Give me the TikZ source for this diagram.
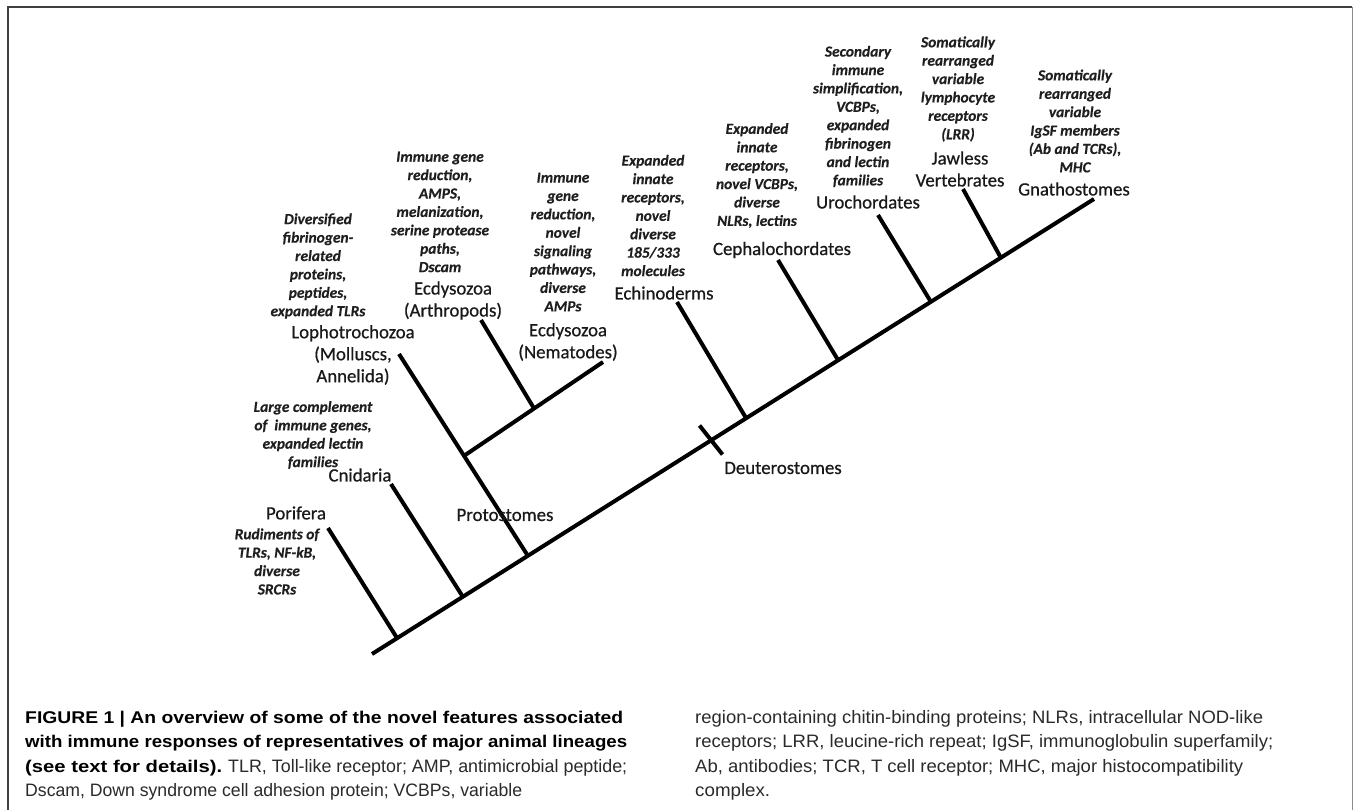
\documentclass[tikz,border=0pt]{standalone}
\usepackage{fontspec}
\usepackage{graphicx}
\setmainfont{Carlito}
\newfontfamily\taxfont{Carlito}[FakeBold=0.6]
\newfontfamily\featfont{Carlito}[FakeBold=0.3]
\newfontfamily\capfont{Liberation Sans}
\usetikzlibrary{calc}
\definecolor{captxt}{HTML}{2A2A2A}
\newcommand{\capbold}{\fontsize{17}{20}\selectfont\bfseries\color{black}}
\newcommand{\capreg}{\fontsize{18}{20}\selectfont\mdseries\color{captxt}}
\begin{document}
\begin{tikzpicture}[x=1pt,y=-1pt,
  branch/.style={line width=4pt, black},
  taxon/.style={font=\taxfont\fontsize{18.8}{22}\selectfont, align=center, inner sep=0pt, text=black!90},
  feat/.style={font=\featfont\fontsize{15.4}{18.4}\selectfont\bfseries\itshape, align=center, inner sep=0pt, text=black!88},
  capline/.style={anchor=base west, inner sep=0pt, font=\capfont},
  framedark/.style={line width=1.5pt, black!75},
  framelight/.style={line width=1pt, black!45}]
\useasboundingbox (0,0) rectangle (1354,810);
\fill[white] (0,0) rectangle (1354,810);
% frame
\draw[framedark] (8,810) -- (8,7) -- (1352,7);
\draw[framelight] (1352,7) -- (1352,810);

% tree coordinates
\coordinate (root) at (372,654);
\coordinate (gna)  at (1094,199);
\coordinate (bPor) at (397,638);  \coordinate (tPor) at (328,528);
\coordinate (bCni) at (463,597);  \coordinate (tCni) at (391,484);
\coordinate (bPro) at (528,556);  \coordinate (tLop) at (399,354);
\coordinate (jE)   at ($(bPro)!0.496!(tLop)$);
\coordinate (tNem) at (603,362);
\coordinate (bArt) at ($(jE)!0.504!(tNem)$);
\coordinate (tArt) at (481,320);
\coordinate (tk)   at (711,440);
\coordinate (tkA)  at ($(tk)+(-11.5,-14.5)$);
\coordinate (tkB)  at ($(tk)+(11.5,14.5)$);
\coordinate (bEch) at (746,418);  \coordinate (tEch) at (677,302);
\coordinate (bCep) at (838,360);  \coordinate (tCep) at (778,260);
\coordinate (bUro) at (931,302);  \coordinate (tUro) at (878,215);
\coordinate (bJaw) at (1001,258); \coordinate (tJaw) at (963,189);

% branches
\draw[branch] (root) -- (gna);
\draw[branch] (bPor) -- (tPor);
\draw[branch] (bCni) -- (tCni);
\draw[branch] (bPro) -- (tLop);
\draw[branch] (jE) -- (tNem);
\draw[branch] (bArt) -- (tArt);
\draw[branch] (tkA) -- (tkB);
\draw[branch] (bEch) -- (tEch);
\draw[branch] (bCep) -- (tCep);
\draw[branch] (bUro) -- (tUro);
\draw[branch] (bJaw) -- (tJaw);

% taxon labels
\node[taxon] (porifera) at (296,513) {Porifera};
\node[taxon] (cnidaria) at (360,475) {Cnidaria};
\node[taxon] (proto) at (505,515) {Protostomes};
\node[taxon] (lopho) at (353,355) {Lophotrochozoa\\(Molluscs,\\Annelida)};
\node[taxon] (arthro) at (453,300.5) {Ecdysozoa\\(Arthropods)};
\node[taxon] (nemat) at (568,342) {Ecdysozoa\\(Nematodes)};
\node[taxon] (echino) at (664,293) {Echinoderms};
\node[taxon] (deutero) at (783,468) {Deuterostomes};
\node[taxon] (cephalo) at (782,250) {Cephalochordates};
\node[taxon] (uro) at (868,202) {Urochordates};
\node[taxon] (jawless) at (960,169) {Jawless\\Vertebrates};
\node[taxon] (gnatho) at (1074,189) {Gnathostomes};

% feature labels
\node[feat] (fPor) at (277,561.5) {Rudiments of\\TLRs, NF-kB,\\diverse\\SRCRs};
\node[feat] (fCni) at (313,435) {Large complement\\of\ \ immune genes,\\expanded lectin\\families};
\node[feat] (fLop) at (318,266) {Diversified\\fibrinogen-\\related\\proteins,\\peptides,\\expanded TLRs};
\node[feat] (fArt) at (440,212) {Immune gene\\reduction,\\AMPS,\\melanization,\\serine protease\\paths,\\Dscam};
\node[feat] (fNem) at (563,242) {Immune\\gene\\reduction,\\novel\\signaling\\pathways,\\diverse\\AMPs};
\node[feat] (fEch) at (653,215.5) {Expanded\\innate\\receptors,\\novel\\diverse\\185/333\\molecules};
\node[feat] (fCep) at (757,175.5) {Expanded\\innate\\receptors,\\novel VCBPs,\\diverse\\NLRs, lectins};
\node[feat] (fUro) at (858,116.5) {Secondary\\immune\\simplification,\\VCBPs,\\expanded\\fibrinogen\\and lectin\\families};
\node[feat] (fJaw) at (958,89) {Somatically\\rearranged\\variable\\lymphocyte\\receptors\\(LRR)};
\node[feat] (fGna) at (1075,121) {Somatically\\rearranged\\variable\\IgSF members\\(Ab and TCRs),\\MHC};

% caption
\node[capline] (c1) at (25,723) {\resizebox{598pt}{\height}{\capbold FIGURE 1 | An overview of some of the novel features associated}};
\node[capline] (c2) at (25,747.5) {\resizebox{602pt}{\height}{\capbold with immune responses of representatives of major animal lineages}};
\node[capline] (c3) at (25,772) {\resizebox{197pt}{\height}{\capbold (see text for details).}\hspace{6pt}\resizebox{399pt}{\height}{\capreg TLR, Toll-like receptor; AMP, antimicrobial peptide;}};
\node[capline] (c4) at (25,796.5) {\resizebox{497pt}{\height}{\capreg Dscam, Down syndrome cell adhesion protein; VCBPs, variable}};
\node[capline] (r1) at (695,723) {\resizebox{568pt}{\height}{\capreg region-containing chitin-binding proteins; NLRs, intracellular NOD-like}};
\node[capline] (r2) at (695,747.5) {\resizebox{578pt}{\height}{\capreg receptors; LRR, leucine-rich repeat; IgSF, immunoglobulin superfamily;}};
\node[capline] (r3) at (695,772) {\resizebox{548pt}{\height}{\capreg Ab, antibodies; TCR, T cell receptor; MHC, major histocompatibility}};
\node[capline] (r4) at (695,796.5) {\resizebox{75pt}{\height}{\capreg complex.}};
\end{tikzpicture}
\end{document}
